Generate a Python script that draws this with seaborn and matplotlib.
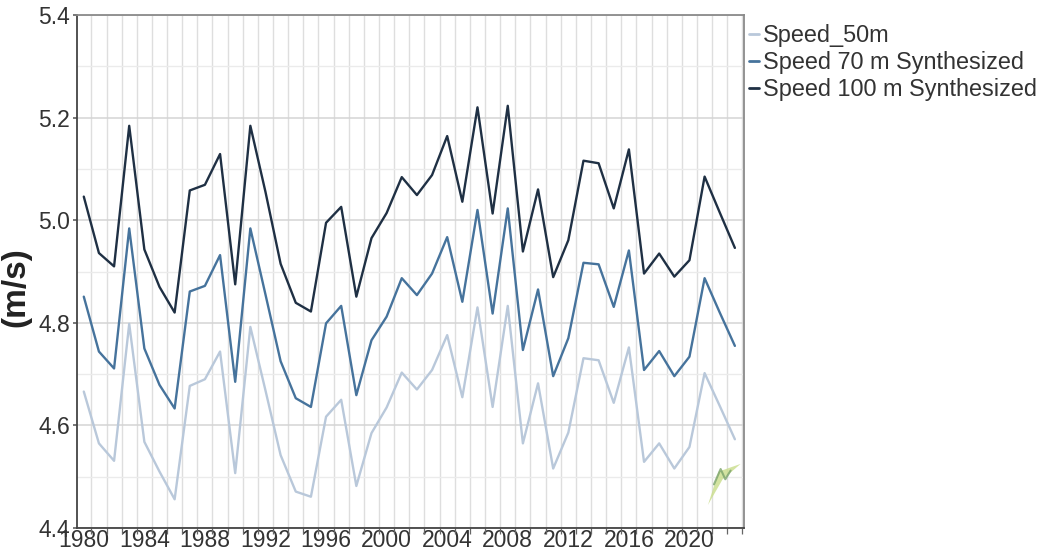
import numpy as np
import pandas as pd
import matplotlib
matplotlib.use("Agg")
import matplotlib.pyplot as plt
from matplotlib.ticker import MultipleLocator, FixedLocator
import seaborn as sns

years = list(range(1980, 2024))

speed_50m = [4.666, 4.565, 4.531, 4.798, 4.568, 4.510, 4.456, 4.677, 4.690, 4.744,
             4.507, 4.792, 4.668, 4.542, 4.471, 4.461, 4.617, 4.650, 4.482, 4.585,
             4.635, 4.703, 4.670, 4.708, 4.776, 4.655, 4.830, 4.636, 4.833, 4.565,
             4.682, 4.516, 4.586, 4.731, 4.727, 4.644, 4.752, 4.529, 4.565, 4.516,
             4.558, 4.702, 4.638, 4.573]

speed_70m = [4.851, 4.744, 4.711, 4.984, 4.750, 4.679, 4.633, 4.861, 4.872, 4.932,
             4.685, 4.984, 4.855, 4.725, 4.653, 4.636, 4.799, 4.833, 4.659, 4.766,
             4.812, 4.887, 4.854, 4.896, 4.967, 4.841, 5.020, 4.818, 5.023, 4.747,
             4.865, 4.696, 4.770, 4.917, 4.914, 4.831, 4.941, 4.708, 4.745, 4.696,
             4.734, 4.887, 4.820, 4.755]

speed_100m = [5.046, 4.936, 4.910, 5.184, 4.943, 4.870, 4.820, 5.058, 5.069, 5.129,
              4.875, 5.184, 5.055, 4.915, 4.839, 4.822, 4.995, 5.026, 4.851, 4.965,
              5.014, 5.084, 5.049, 5.088, 5.164, 5.036, 5.220, 5.013, 5.223, 4.939,
              5.060, 4.889, 4.961, 5.116, 5.111, 5.023, 5.138, 4.896, 4.935, 4.890,
              4.922, 5.085, 5.015, 4.946]

series_names = ["Speed_50m", "Speed 70 m Synthesized", "Speed 100 m Synthesized"]
series_colors = ["#b9c8da", "#46739c", "#1f3044"]

year_labels = [1980, 1984, 1988, 1992, 1996, 2000, 2004, 2008, 2012, 2016, 2020]

df = pd.DataFrame({
    "year": years * 3,
    "speed": speed_50m + speed_70m + speed_100m,
    "series": [series_names[0]] * len(years)
              + [series_names[1]] * len(years)
              + [series_names[2]] * len(years),
})

sns.set_theme(style="white")
plt.rcParams["font.family"] = ["Liberation Sans", "DejaVu Sans"]

fig = plt.figure(figsize=(10.43, 5.55), dpi=100)
ax = fig.add_axes([0.0738, 0.0486, 0.6395, 0.9244])

# grid: half-year verticals, 0.1 / 0.2 horizontals
ax.set_xlim(1979.55, 2023.6)
ax.set_ylim(4.4, 5.4)
ax.xaxis.set_major_locator(FixedLocator(year_labels))
ax.xaxis.set_minor_locator(FixedLocator([y + 0.5 for y in range(1979, 2024)]))
ax.yaxis.set_major_locator(MultipleLocator(0.2))
ax.yaxis.set_minor_locator(MultipleLocator(0.1))
ax.grid(which="minor", axis="x", color="#dedede", linewidth=1.0)
ax.grid(which="major", axis="y", color="#d4d4d4", linewidth=1.1)
ax.grid(which="minor", axis="y", color="#ebebeb", linewidth=1.0)
ax.set_axisbelow(True)

sns.lineplot(data=df, x="year", y="speed", hue="series", hue_order=series_names,
             palette=series_colors, linewidth=1.7, ax=ax, legend=False)

ax.set_xticklabels([str(y) for y in year_labels], fontsize=16.5, color="#333333")
ax.tick_params(axis="x", which="major", length=0, pad=1)
ax.tick_params(axis="x", which="minor", length=4, color="#666666", width=0.9, bottom=True)
ax.tick_params(axis="y", which="major", length=3, color="#666666", labelsize=16.5,
               labelcolor="#333333", pad=2, left=True)
ax.yaxis.set_major_formatter(matplotlib.ticker.FormatStrFormatter("%.1f"))
ax.set_xlabel("")
ax.set_ylabel("(m/s)", fontsize=24, fontweight="bold", color="#222222")
ax.yaxis.set_label_coords(-0.068, 0.47)

for side in ["left", "bottom"]:
    ax.spines[side].set_color("#444444")
    ax.spines[side].set_linewidth(1.3)
for side in ["top", "right"]:
    ax.spines[side].set_color("#8a8a8a")
    ax.spines[side].set_linewidth(1.3)

# small green logo in the lower-right corner of the plot
ax.fill([0.946, 0.962, 0.995, 0.968], [0.045, 0.11, 0.125, 0.095],
        transform=ax.transAxes, color="#c9dd8a", alpha=0.8, lw=0)
ax.plot([0.955, 0.965, 0.972, 0.98], [0.085, 0.115, 0.095, 0.112],
        transform=ax.transAxes, color="#7aa36b", lw=1.5, alpha=0.8)

handles = [plt.Line2D([], [], color=c, lw=2) for c in series_colors]
ax.legend(handles, series_names, loc="upper left", bbox_to_anchor=(0.993, 1.0),
          frameon=False, fontsize=16.9, handlelength=0.45, handletextpad=0.15,
          labelspacing=0.17, borderaxespad=0, labelcolor="#333333")

fig.savefig("out.png", dpi=100)
